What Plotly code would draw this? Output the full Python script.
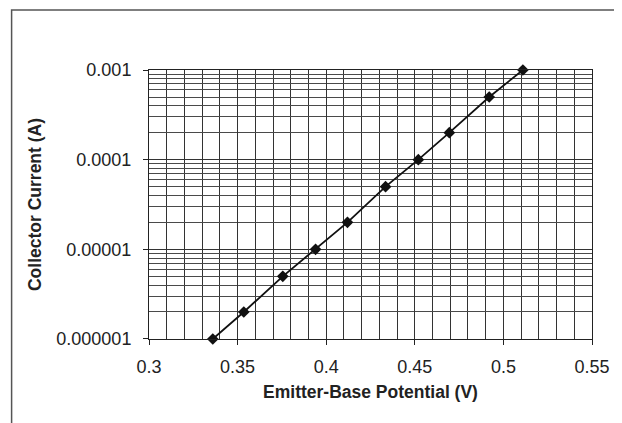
import plotly.graph_objects as go

# Data
emitter_base_v = [0.336, 0.3535, 0.3755, 0.394, 0.412, 0.4335, 0.452, 0.4695, 0.492, 0.511]
collector_a = [1e-6, 2e-6, 5e-6, 1e-5, 2e-5, 5e-5, 1e-4, 2e-4, 5e-4, 1e-3]

x_ticks = [0.3, 0.35, 0.4, 0.45, 0.5, 0.55]
x_ticktext = ["0.3", "0.35", "0.4", "0.45", "0.5", "0.55"]
y_ticks = [1e-6, 1e-5, 1e-4, 1e-3]
y_ticktext = ["0.000001", "0.00001", "0.0001", "0.001"]
y_minor = [m * 10 ** e for e in range(-6, -3) for m in range(2, 10)]

# page body has an 8px margin, so the figure is drawn at (8, 8)
W, H = 614, 415
L, R, T, B = 141, 20, 62, 84
pw, ph = W - L - R, H - T - B

grid_col = "#333333"
font_fam = "Liberation Sans, Arial, sans-serif"

fig = go.Figure()
fig.add_trace(go.Scatter(
    x=emitter_base_v, y=collector_a, mode="lines+markers",
    line=dict(color="#111", width=1.8),
    marker=dict(symbol="diamond", size=9, color="#111"),
    showlegend=False, cliponaxis=False,
))

fig.update_layout(
    width=W, height=H,
    margin=dict(l=L, r=R, t=T, b=B),
    paper_bgcolor="white", plot_bgcolor="white",
    font=dict(family=font_fam, size=18, color="#222"),
    xaxis=dict(
        range=[0.3, 0.55], tickvals=x_ticks, ticktext=x_ticktext,
        ticks="outside", ticklen=5, tickcolor="#222", ticklabelstandoff=6,
        tickfont=dict(size=18),
        showgrid=True, gridcolor=grid_col, gridwidth=1,
        showline=True, linecolor="#222", linewidth=1, mirror=True,
        minor=dict(dtick=0.01, tick0=0.3, showgrid=True, gridcolor=grid_col, gridwidth=1, ticks=""),
        zeroline=False,
        title=dict(text="<b>Emitter-Base Potential (V)</b>", font=dict(size=17.5, color="#222"), standoff=10),
    ),
    yaxis=dict(
        type="log", range=[-6.0002, -2.9998], tickvals=y_ticks, ticktext=y_ticktext,
        ticks="outside", ticklen=5, tickcolor="#222", ticklabelstandoff=8,
        tickfont=dict(size=18),
        showgrid=True, gridcolor=grid_col, gridwidth=1,
        showline=True, linecolor="#222", linewidth=1, mirror=True,
        minor=dict(tickvals=y_minor, showgrid=True, gridcolor="#4a4a4a", gridwidth=1, ticks=""),
        zeroline=False,
        title=dict(text="<b>Collector Current (A)</b>", font=dict(size=17.5, color="#222"), standoff=10),
    ),
    shapes=[dict(
        type="rect", xref="paper", yref="paper",
        x0=(0.5 - L) / pw, x1=2.0,
        y0=-2.0, y1=1 + (T - 2) / ph,
        line=dict(color="#555", width=1.5), fillcolor="rgba(0,0,0,0)", layer="below",
    )],
)

fig.write_html("out.html")
